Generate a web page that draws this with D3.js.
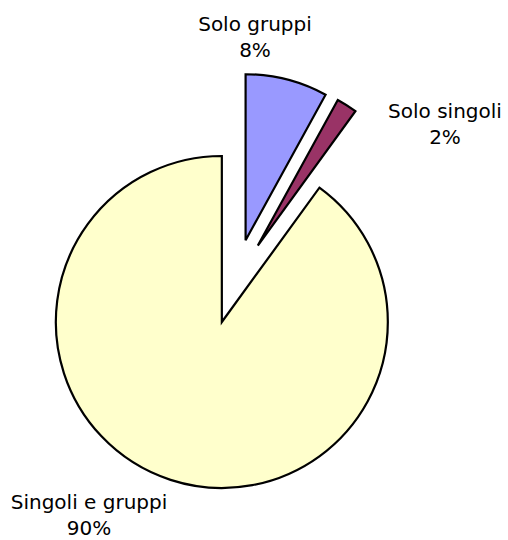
<!DOCTYPE html>
<html>
<head>
<meta charset="utf-8">
<script src="https://cdn.jsdelivr.net/npm/d3@7"></script>
<style>
  html, body { margin: 0; padding: 0; background: #fff; }
  text { font-family: "DejaVu Sans", Verdana, sans-serif; }
</style>
</head>
<body>
<div id="chart"></div>
<script>
const w = 508;
const h = 540;

// data
const categories = ['Solo gruppi', 'Solo singoli', 'Singoli e gruppi'];
const values = [8, 2, 90];
const pctLabels = ['8%', '2%', '90%'];
const colors = ['#9999FF', '#993366', '#FFFFCC'];

// layout
const cx = 235;
const cy = 281.5;
const radius = 166;
const explode = 42.6;
// label anchors (centre x, first baseline)
const labelPos = [[255, 31], [445, 117.5], [89, 509]];
const lineGap = 26;

var svg = d3.select('#chart')
  .append('svg')
  .attr('width', w)
  .attr('height', h);

const pie = d3.pie().sort(null).value(d => d);
const arcs = pie(values);

const arc = d3.arc().innerRadius(0).outerRadius(radius);

const g = svg.append('g').attr('transform', 'translate(' + cx + ',' + cy + ')');

g.selectAll('.slice')
  .data(arcs)
  .enter()
  .append('path')
  .attr('class', 'slice')
  .attr('d', arc)
  .attr('transform', d => {
    const a = (d.startAngle + d.endAngle) / 2;
    return 'translate(' + (Math.sin(a) * explode) + ',' + (-Math.cos(a) * explode) + ')';
  })
  .style('fill', (d, i) => colors[i])
  .style('stroke', '#000')
  .style('stroke-width', 2.2)
  .style('stroke-linejoin', 'miter');

const labels = svg.selectAll('.lbl')
  .data(categories)
  .enter()
  .append('text')
  .attr('class', 'lbl')
  .attr('text-anchor', 'middle')
  .style('font-size', '20px')
  .style('fill', '#000');

labels.append('tspan')
  .attr('x', (d, i) => labelPos[i][0])
  .attr('y', (d, i) => labelPos[i][1])
  .text(d => d);

labels.append('tspan')
  .attr('x', (d, i) => labelPos[i][0])
  .attr('y', (d, i) => labelPos[i][1] + lineGap)
  .text((d, i) => pctLabels[i]);
</script>
</body>
</html>
